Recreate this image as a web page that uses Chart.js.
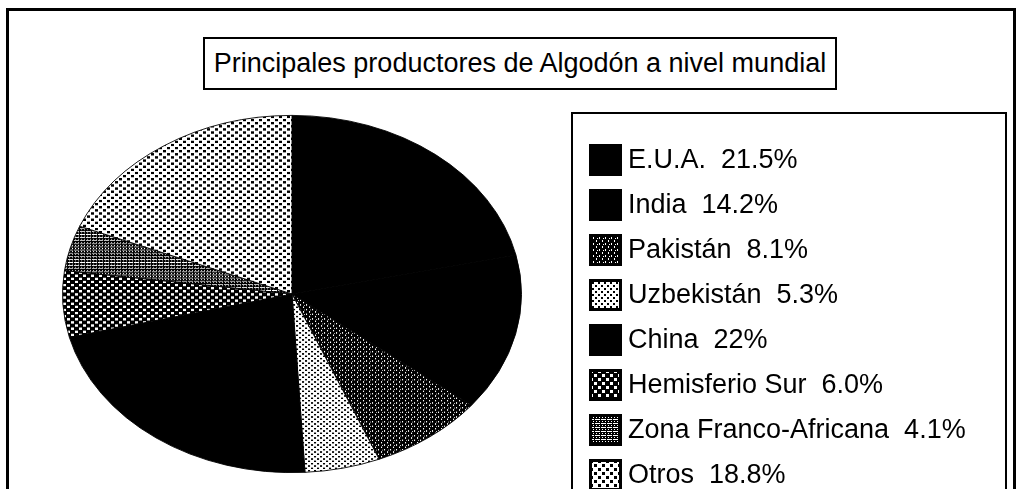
<!DOCTYPE html>
<html>
<head>
<meta charset="utf-8">
<script src="https://cdn.jsdelivr.net/npm/chart.js@4.4.0/dist/chart.umd.min.js"></script>
<style>
  html, body { margin: 0; padding: 0; background: #fff; }
  body { width: 1028px; height: 489px; position: relative; overflow: hidden;
         font-family: "Liberation Sans", Arial, sans-serif; color: #000; }
  #frame { position: absolute; left: 6px; top: 8px; width: 1010px; height: 520px;
           border: 3px solid #000; box-sizing: border-box; }
  #title { position: absolute; left: 203px; top: 37px; width: 634px; height: 53px;
           border: 2px solid #000; box-sizing: border-box; text-align: center;
           font-size: 27px; line-height: 49px; white-space: nowrap; }
  #pie { position: absolute; left: 62px; top: 64px; width: 460px; height: 460px; }
  #legend { position: absolute; left: 571px; top: 112px; width: 436px; height: 420px;
            border: 2px solid #000; box-sizing: border-box; padding: 23px 0 0 16px; }
  .row { height: 45px; display: flex; align-items: center; }
  .row canvas { width: 33px; height: 32px; margin-right: 6px; }
  .row span { font-size: 27px; white-space: pre; }
</style>
</head>
<body>
<div id="frame"></div>
<div id="title">Principales productores de Algodón a nivel mundial</div>
<canvas id="pie" width="460" height="460"></canvas>
<div id="legend"></div>
<script>
// ── 資料 ────────────────────────────────────────────────
const LABELS = ['E.U.A.', 'India', 'Pakistán', 'Uzbekistán', 'China',
                'Hemisferio Sur', 'Zona Franco-Africana', 'Otros'];
const SHARES = [21.5, 14.2, 8.1, 5.3, 22, 6.0, 4.1, 18.8];
const SHARE_TEXT = ['21.5%', '14.2%', '8.1%', '5.3%', '22%', '6.0%', '4.1%', '18.8%'];

// 每一塊的填色樣式（黑白網點）
const FILLS = ['solid', 'solid', 'vlines', 'dotsFine', 'solid', 'dotsWhite', 'grid', 'dotsCoarse'];

const RY_RATIO = 179 / 230; // 橢圓：縱向壓扁

// ── 網點圖樣 ─────────────────────────────────────────────
function tile(w, h, bg, fg, rects) {
  const c = document.createElement('canvas');
  c.width = w; c.height = h;
  const g = c.getContext('2d');
  g.fillStyle = bg; g.fillRect(0, 0, w, h);
  g.fillStyle = fg;
  rects.forEach(r => g.fillRect(r[0], r[1], r[2], r[3]));
  return c;
}

const TILES = {
  vlines:     tile(6, 6, '#000', '#fff', [[1,0,1,2],[4,3,1,2],[2,4,1,1]]),
  dotsFine:   tile(6, 6, '#fff', '#000', [[0,0,2,2],[3,3,2,2]]),
  dotsWhite:  tile(8, 8, '#000', '#fff', [[1,1,3,3],[5,5,3,3]]),
  grid:       tile(6, 4, '#000', '#fff', [[0,1,5,1],[1,3,1,1],[4,3,1,1]]),
  dotsCoarse: tile(8, 8, '#fff', '#000', [[1,1,3,3],[5,5,3,3]])
};

function fillFor(ctx, key) {
  if (key === 'solid') return '#000';
  return ctx.createPattern(TILES[key], 'repeat');
}

// ── 橢圓外掛 ─────────────────────────────────────────────
const squash = {
  id: 'squash',
  beforeDatasetsDraw(chart) {
    const { ctx, chartArea: a } = chart;
    const cy = (a.top + a.bottom) / 2;
    ctx.save();
    ctx.translate(0, cy);
    ctx.scale(1, RY_RATIO);
    ctx.translate(0, -cy);
  },
  afterDatasetsDraw(chart) { chart.ctx.restore(); }
};

// ── 圓餅圖 ───────────────────────────────────────────────
const pieCanvas = document.getElementById('pie');
const pctx = pieCanvas.getContext('2d');

new Chart(pieCanvas, {
  type: 'pie',
  data: {
    labels: LABELS,
    datasets: [{
      data: SHARES,
      backgroundColor: FILLS.map(k => fillFor(pctx, k)),
      borderColor: '#000',
      borderWidth: 1
    }]
  },
  options: {
    responsive: false,
    animation: false,
    events: [],
    plugins: { legend: { display: false }, tooltip: { enabled: false } }
  },
  plugins: [squash]
});

// ── 圖例 ────────────────────────────────────────────────
const legend = document.getElementById('legend');
LABELS.forEach((name, i) => {
  const row = document.createElement('div');
  row.className = 'row';
  const sw = document.createElement('canvas');
  sw.width = 33; sw.height = 32;
  const g = sw.getContext('2d');
  g.fillStyle = '#000';
  g.fillRect(0, 0, 33, 32);
  if (FILLS[i] !== 'solid') {
    g.fillStyle = fillFor(g, FILLS[i]);
    g.fillRect(3, 3, 27, 26);
  }
  const txt = document.createElement('span');
  txt.textContent = name + '  ' + SHARE_TEXT[i];
  row.appendChild(sw);
  row.appendChild(txt);
  legend.appendChild(row);
});
</script>
</body>
</html>
